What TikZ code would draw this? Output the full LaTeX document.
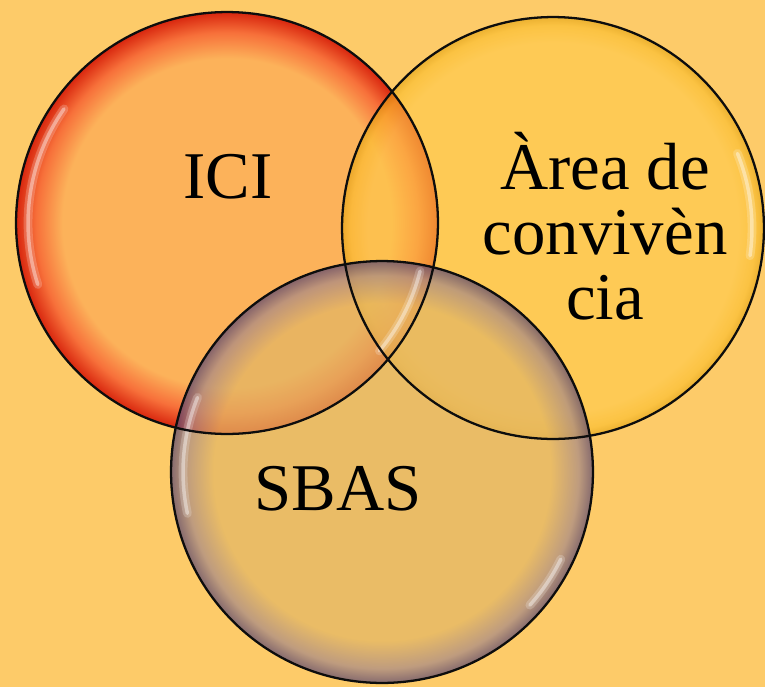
\documentclass[tikz,border=0pt]{standalone}
\usepackage{fontspec}
\setmainfont{Liberation Serif}

\definecolor{bgcol}{HTML}{FDCB69}
\definecolor{iciin}{HTML}{FCB25A}
\definecolor{icimid}{HTML}{F7703A}
\definecolor{icirim}{HTML}{D8260E}
\definecolor{areain}{HTML}{FFCA48}
\definecolor{areamid}{HTML}{FBBE2A}
\definecolor{arearim}{HTML}{E0A00C}
\definecolor{sbasin}{HTML}{E2B665}
\definecolor{sbasmid}{HTML}{A48888}
\definecolor{sbasrim}{HTML}{544270}

\pgfdeclareradialshading{iciglow}{\pgfpoint{0bp}{0bp}}{color(0bp)=(iciin); color(19.5bp)=(iciin); color(22.6bp)=(icimid); color(25bp)=(icirim); color(50bp)=(icirim)}
\pgfdeclareradialshading{areaglow}{\pgfpoint{0bp}{0bp}}{color(0bp)=(areain); color(22bp)=(areain); color(24bp)=(areamid); color(25bp)=(arearim); color(50bp)=(arearim)}
\pgfdeclareradialshading{sbasglow}{\pgfpoint{0bp}{0bp}}{color(0bp)=(sbasin); color(20bp)=(sbasin); color(23.3bp)=(sbasmid); color(25bp)=(sbasrim); color(50bp)=(sbasrim)}

\tikzset{
  ring/.style={circle, inner sep=0pt, minimum size=8.44cm},
  rim/.style={draw=black!95, line width=1.3pt},
  gloss/.style={draw=white, line width=5pt, draw opacity=0.2, line cap=round},
  glint/.style={draw=white, line width=2pt, draw opacity=0.4, line cap=round},
  word/.style={font=\fontsize{38}{37}\selectfont, text=black, align=center}
}

\begin{document}
\begin{tikzpicture}[x=0.02cm, y=-0.02cm]
    \fill[bgcol] (0,0) rectangle (765,687);
    \useasboundingbox (0,0) rectangle (765,687);

    % the three sets
    \node[ring, shading=iciglow] (ici) at (227,223) {};
    \node[ring, shading=areaglow, fill opacity=0.6] (area) at (553,228) {};
    \node[ring, shading=sbasglow, fill opacity=0.7] (sbas) at (382,472) {};

    % glossy streaks
    \foreach \c/\a/\b in {ici/145/198, ici/-14/-40, area/-8/22, sbas/158/192, sbas/-26/-42} {
        \draw[gloss] (\c.center) ++(\a:3.98cm) arc (\a:\b:3.98cm);
        \draw[glint] (\c.center) ++(\a:3.98cm) arc (\a:\b:3.98cm);
    }

    % outlines on top
    \foreach \c in {ici,area,sbas}
        \draw[rim] (\c.center) circle (4.22cm);

    \node[word, anchor=base] (icilbl) at (228,198) {ICI};
    \node[word] (arealbl) at (605,226) {Àrea de\\convivèn\\cia};
    \node[word, anchor=base] (sbaslbl) at (338,510) {SBAS};
\end{tikzpicture}
\end{document}
